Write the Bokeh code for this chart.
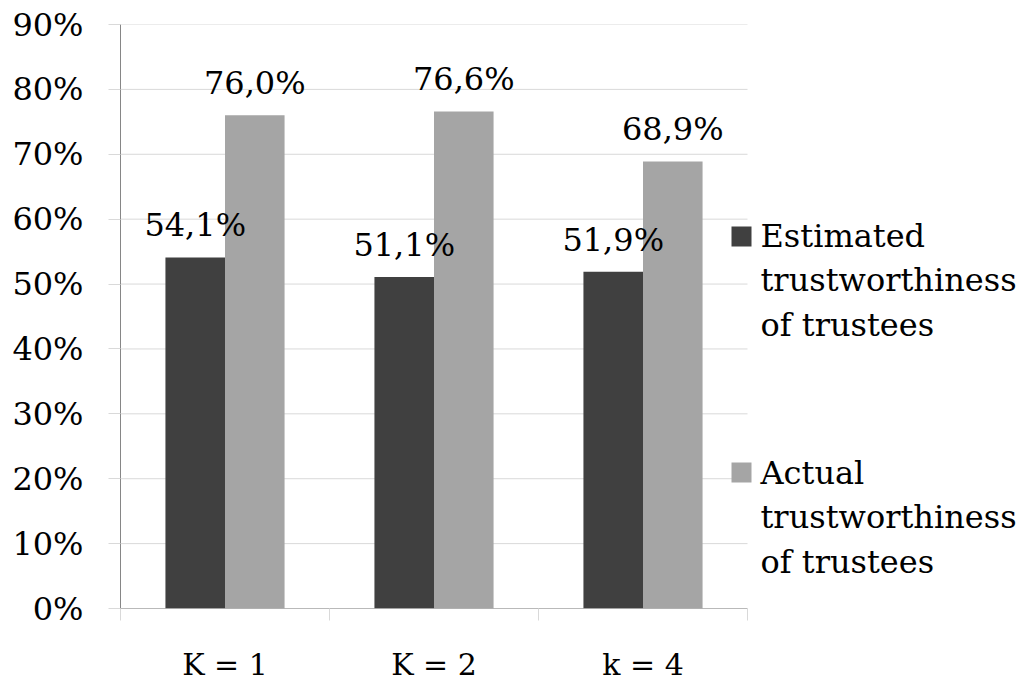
from bokeh.plotting import figure
from bokeh.models import (Range1d, LinearAxis, FixedTicker, Label,
                          BoxAnnotation, ColumnDataSource)
from bokeh.transform import dodge
from bokeh.core.properties import value
from bokeh.embed import file_html
from bokeh.resources import INLINE

# ---- data ----
categories = ["K = 1", "K = 2", "k = 4"]
estimated = [54.1, 51.1, 51.9]
actual = [76.0, 76.6, 68.9]
series_lines = [["Estimated", "trustworthiness", "of trustees"],
                ["Actual", "trustworthiness", "of trustees"]]
y_ticks = [0, 10, 20, 30, 40, 50, 60, 70, 80, 90]
y_tick_labels = [f"{t}%" for t in y_ticks]

FONT = "DejaVu Serif"
DARK = "#404040"
LIGHT = "#a5a5a5"
GRID = "#d9d9d9"
AXIS = "#868686"

W, H = 1025, 684
FRAME_LEFT = 120
PLOT_RIGHT = 747          # right edge of the category area
FRAME_TOP = 24
FRAME_BOTTOM = 609

def fmt(v):
    return f"{v:.1f}%".replace(".", ",")

n = len(categories)
centers = [i + 0.5 for i in range(n)]
src = ColumnDataSource(dict(
    x=centers, cat=categories, est=estimated, act=actual,
    est_lbl=[fmt(v) for v in estimated],
    act_lbl=[fmt(v) for v in actual],
))

# frame extends to the right edge so the legend can live inside it
x_end = n * (W - FRAME_LEFT) / (PLOT_RIGHT - FRAME_LEFT)

p = figure(width=W, height=H,
           x_range=Range1d(0, x_end),
           y_range=Range1d(0, y_ticks[-1]),
           output_backend="svg", toolbar_location=None,
           x_axis_location=None,
           min_border_left=FRAME_LEFT, min_border_right=0,
           min_border_top=FRAME_TOP, min_border_bottom=H - FRAME_BOTTOM)
p.outline_line_color = None
p.background_fill_color = "white"
p.border_fill_color = "white"

# y axis
p.yaxis.ticker = FixedTicker(ticks=y_ticks)
p.yaxis.major_label_overrides = dict(zip(y_ticks, y_tick_labels))
p.yaxis.major_tick_out = 12
p.yaxis.major_tick_in = 0
p.yaxis.major_tick_line_color = GRID
p.yaxis.minor_tick_line_color = None
p.yaxis.axis_line_color = AXIS
p.yaxis.major_label_standoff = 25
p.yaxis.major_label_text_font = FONT
p.yaxis.major_label_text_font_size = "32px"
p.yaxis.major_label_text_color = "black"

p.ygrid.grid_line_color = None
p.xgrid.grid_line_color = None

# horizontal gridlines limited to the category area
p.segment(x0=[0] * len(y_ticks), x1=[n] * len(y_ticks),
          y0=y_ticks, y1=y_ticks, line_color=GRID, line_width=1)

# x axis: labels at category centers, tick marks at category boundaries
xaxis = LinearAxis(
    ticker=FixedTicker(ticks=centers, minor_ticks=list(range(n + 1))),
    major_label_overrides=dict(zip(centers, categories)),
    major_tick_line_color=None, major_tick_out=0, major_tick_in=0,
    minor_tick_out=12, minor_tick_in=0, minor_tick_line_color=GRID,
    axis_line_color=None,
    major_label_standoff=26,
    major_label_text_font=FONT, major_label_text_font_size="30px",
    major_label_text_color="black",
)
p.add_layout(xaxis, "below")

# bars
p.vbar(x=dodge("x", -0.1425), top="est", width=0.285,
       source=src, fill_color=DARK, line_color=None)
p.vbar(x=dodge("x", 0.1425), top="act", width=0.285,
       source=src, fill_color=LIGHT, line_color=None)

# x axis line over the category area
p.segment(x0=[0], x1=[n], y0=[0], y1=[0], line_color=AXIS, line_width=1)

# data labels
for col, lbl, off in [("est", "est_lbl", -0.1425), ("act", "act_lbl", 0.1425)]:
    p.text(x=dodge("x", off), y=col, text=lbl, source=src,
           text_align="center", text_baseline="alphabetic", y_offset=-32,
           text_font=value(FONT), text_font_size="32px", text_color="black")

# legend (manual, in the right part of the frame)
legend_text_x = 760
first_baselines = [236, 473]
line_gap = 44.5
square_tops = [227, 463]
colors = [DARK, LIGHT]
for lines, base, sq_top, c in zip(series_lines, first_baselines, square_tops, colors):
    p.add_layout(BoxAnnotation(left=731 - FRAME_LEFT, right=751 - FRAME_LEFT,
                               top=FRAME_BOTTOM - sq_top, bottom=FRAME_BOTTOM - sq_top - 20,
                               left_units="screen", right_units="screen",
                               top_units="screen", bottom_units="screen",
                               fill_color=c, fill_alpha=1, line_color=None))
    for k, t in enumerate(lines):
        p.add_layout(Label(x=legend_text_x - FRAME_LEFT,
                           y=FRAME_BOTTOM - (base + k * line_gap),
                           x_units="screen", y_units="screen", text=t,
                           text_font=FONT, text_font_size="32px",
                           text_baseline="alphabetic", text_align="left",
                           text_color="black"))

open("out.html", "w").write(file_html(p, INLINE))
